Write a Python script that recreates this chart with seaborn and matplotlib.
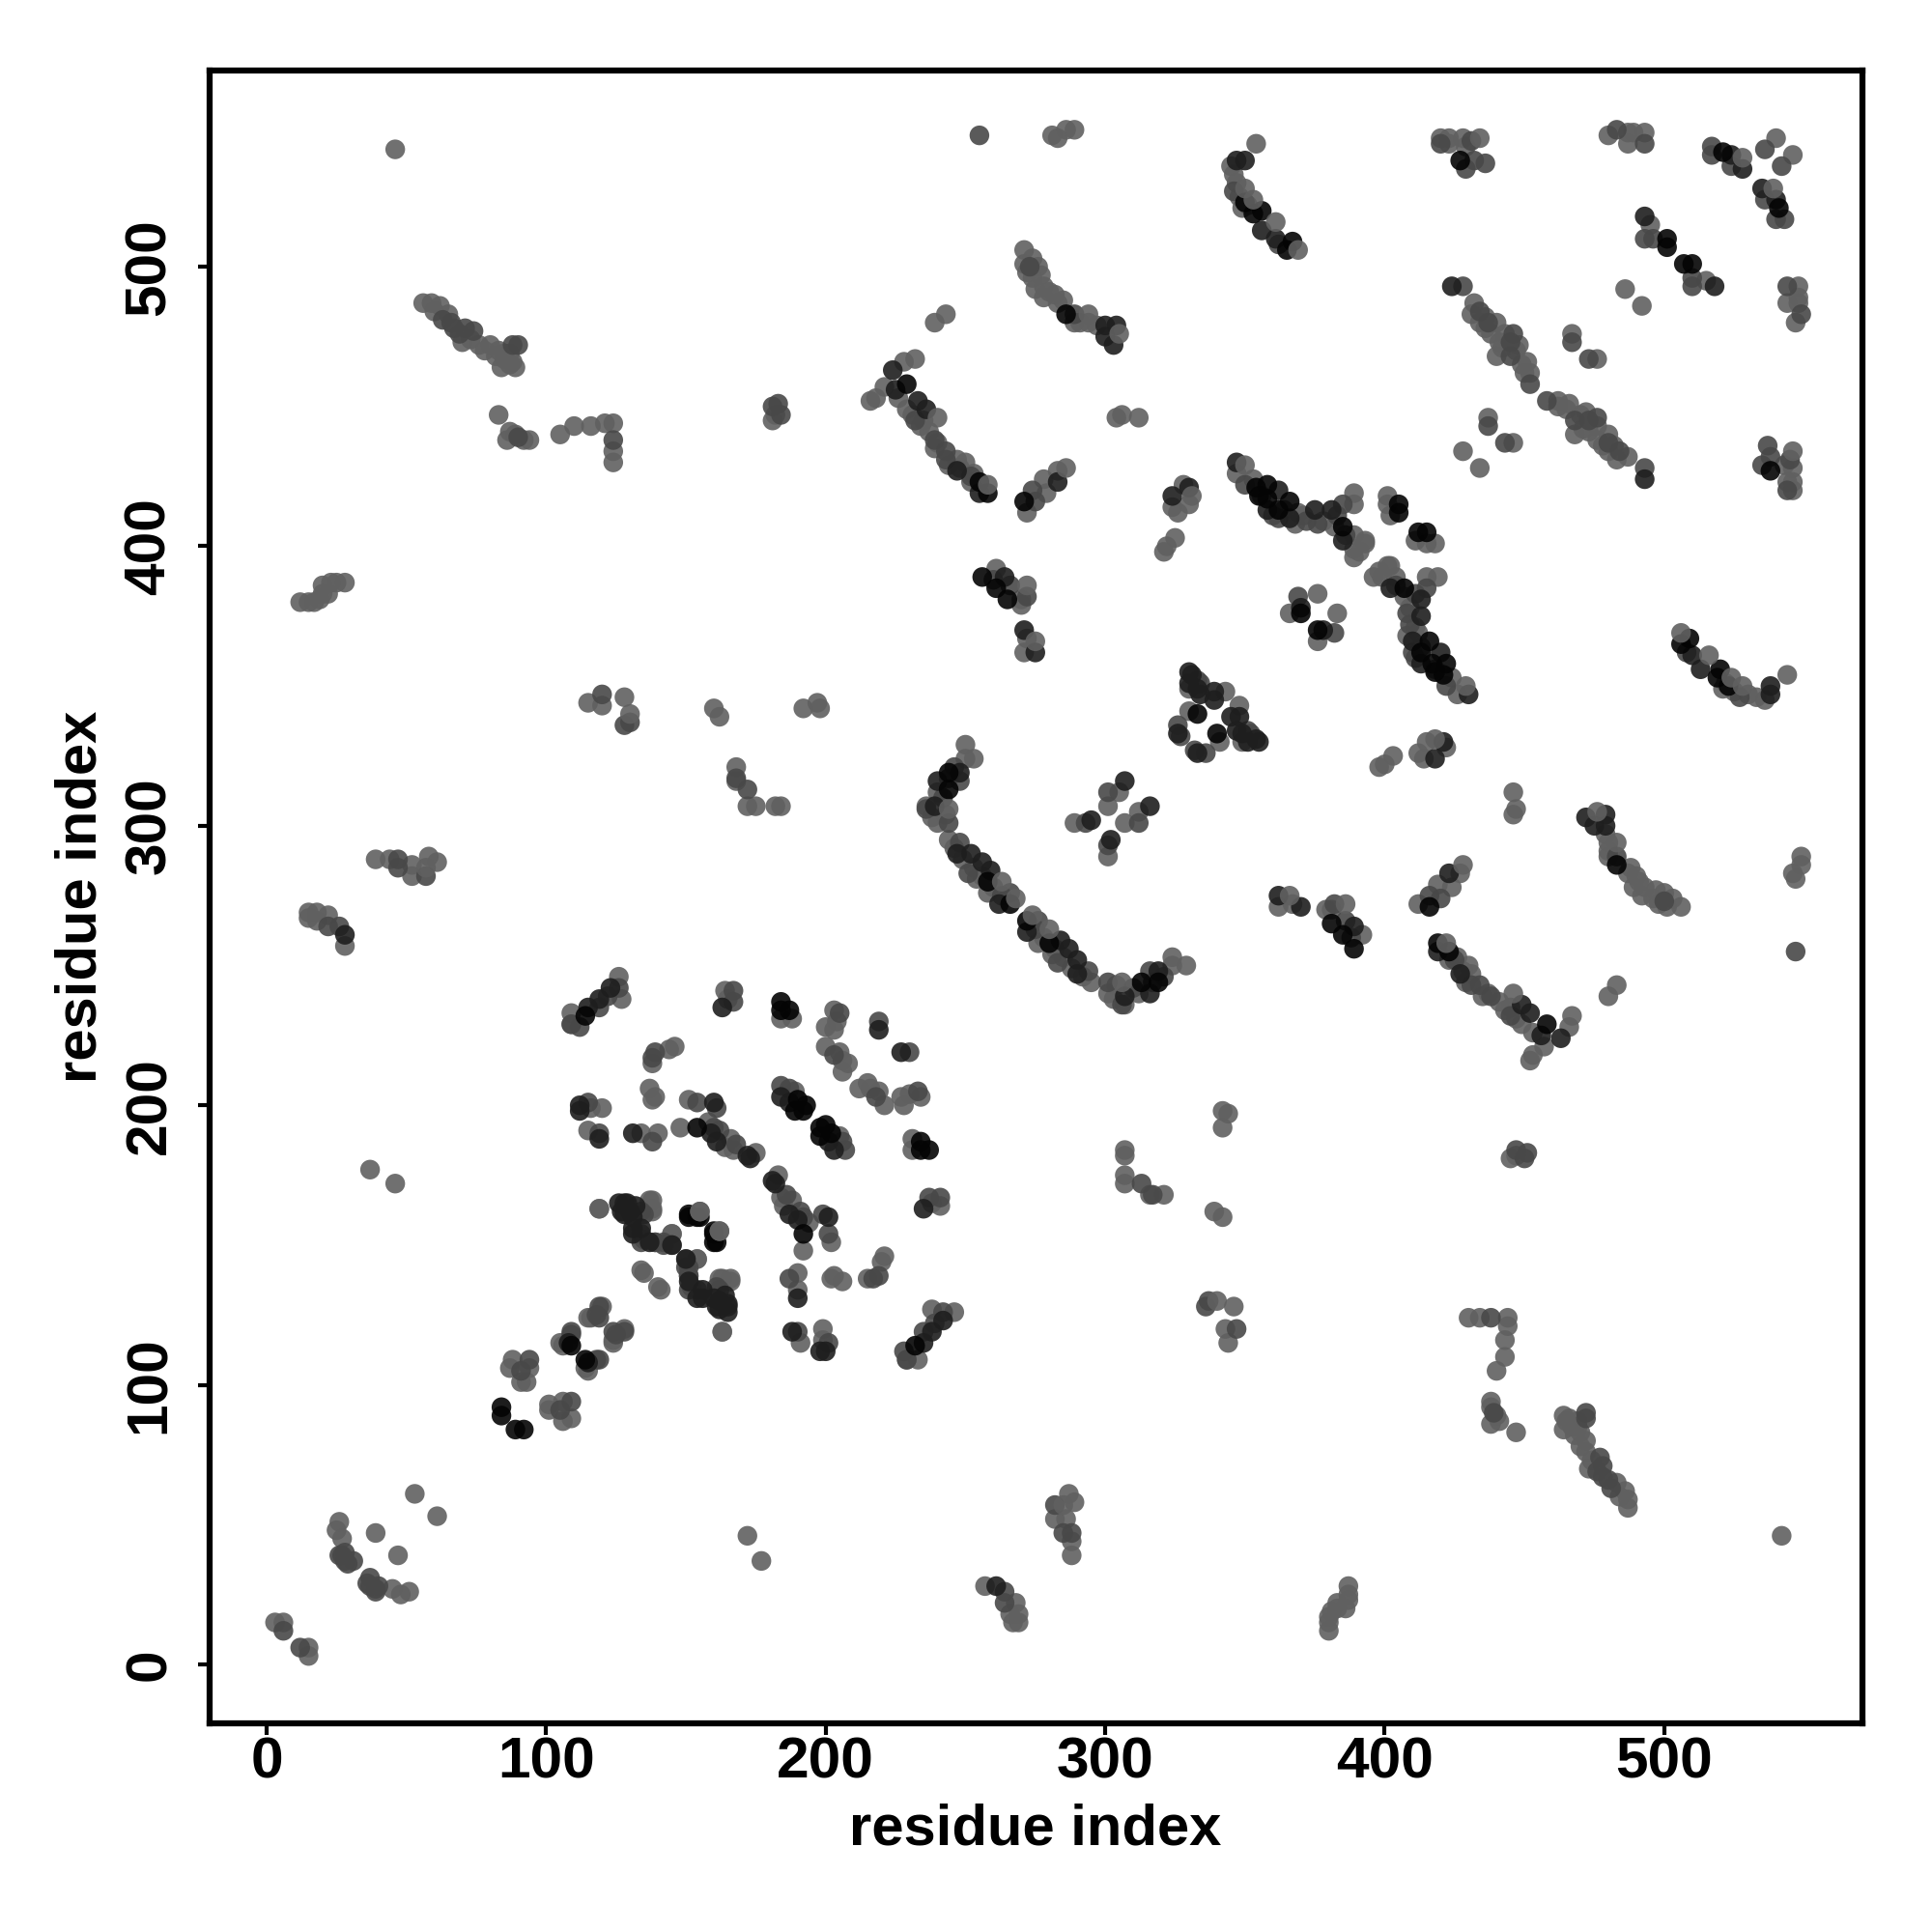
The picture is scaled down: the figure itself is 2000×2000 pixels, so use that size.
import pandas as pd
import matplotlib
matplotlib.use('Agg')
import matplotlib.pyplot as plt
import seaborn as sns

# contacts as (residue i, residue j), i < j
# the map is symmetric so each pair gets drawn on both sides of the diagonal
light_contacts = [
    (3, 15), (6, 15), (26, 51), (25, 48), (27, 45), (39, 47), (53, 61),
    (12, 380), (15, 380), (17, 380), (19, 381), (20, 383), (22, 383), (20, 386), (23, 387), (25, 387), (28, 387),
    (15, 269), (18, 269), (15, 267), (18, 266), (22, 268), (28, 257),
    (39, 288), (44, 288), (52, 286), (52, 282), (58, 289), (61, 287),
    (46, 542), (37, 177), (46, 172),
    (56, 487), (59, 487), (62, 486), (60, 484), (65, 483), (73, 474), (76, 472), (80, 472), (83, 470),
    (85, 467), (85, 469), (84, 464), (87, 465), (89, 464), (87, 469), (83, 447),
    (70, 473), (78, 470), (82, 468), (88, 466),
    (87, 441), (86, 438), (89, 440), (92, 438), (94, 438),
    (105, 440), (110, 443), (116, 443), (121, 444), (124, 444), (124, 434), (124, 430),
    (115, 344), (120, 343), (128, 346),
    (160, 342), (162, 339),
    (168, 321), (168, 316), (172, 307), (175, 307), (182, 307), (184, 307),
    (192, 342), (197, 344), (198, 342), (182, 447), (181, 445),
    (93, 101), (94, 106), (91, 101), (88, 109), (87, 106),
    (109, 233), (109, 229), (126, 246), (127, 238),
    (164, 241), (165, 238),
    (184, 231), (188, 231), (203, 234), (204, 230), (200, 228), (203, 227),
    (146, 221), (144, 220), (138, 215),
    (137, 206), (139, 203), (138, 202), (151, 202),
    (116, 199), (120, 199), (115, 191),
    (134, 190), (140, 190), (148, 192),
    (158, 194), (166, 188), (164, 185), (167, 184), (175, 183),
    (189, 205),
    (200, 221), (205, 219), (206, 216), (208, 215), (206, 212),
    (119, 163), (137, 166), (138, 163), (145, 154),
    (134, 141), (140, 135), (154, 145), (152, 135), (162, 138), (166, 138), (163, 119),
    (115, 124), (128, 120), (124, 116), (105, 115), (114, 106),
    (283, 546), (286, 549), (289, 549), (281, 547),
    (345, 536), (346, 533), (349, 521), (347, 530), (348, 525), (351, 522),
    (271, 506), (271, 501), (276, 500), (274, 496), (278, 493), (275, 492), (282, 490), (278, 489), (285, 488),
    (272, 498), (274, 503), (277, 497), (280, 491), (283, 487), (289, 480), (294, 480), (291, 480), (297, 479),
    (239, 480), (243, 483), (304, 446), (306, 447), (312, 446),
    (325, 403), (322, 400), (321, 398), (328, 422), (324, 414), (326, 412), (330, 415),
    (218, 453), (216, 452), (221, 457), (226, 453), (228, 466), (235, 445), (239, 435), (247, 431), (250, 430),
    (253, 426), (252, 423), (229, 449), (231, 447), (234, 443), (237, 441), (240, 437), (244, 429), (248, 428),
    (272, 412), (279, 419), (278, 424), (283, 427),
    (250, 329), (250, 324), (253, 324), (240, 312), (236, 307), (240, 301), (238, 303), (243, 304),
    (244, 295), (254, 281), (258, 276), (246, 292), (249, 288), (253, 285), (256, 282), (260, 278),
    (289, 301), (301, 307), (305, 312),
    (261, 392), (270, 381), (270, 379), (272, 367), (271, 362),
    (347, 426), (353, 424), (389, 419), (389, 415), (382, 407), (389, 404), (393, 402), (393, 401), (389, 399), (389, 396),
    (369, 412), (401, 418), (401, 415), (402, 411), (356, 418), (364, 413), (368, 408), (371, 411), (378, 409), (391, 398),
    (376, 383), (366, 376), (330, 349), (330, 341), (343, 348),
    (420, 546), (423, 546), (423, 544), (428, 546), (429, 543),
    (480, 547), (487, 548), (489, 548), (493, 548), (487, 544),
    (540, 546), (495, 515),
    (432, 487), (431, 483), (434, 480), (440, 480), (441, 473), (448, 472), (440, 468), (451, 466), (450, 462), (452, 462),
    (436, 478), (438, 476), (442, 471), (443, 476), (447, 470), (449, 465), (436, 482),
    (467, 476), (437, 446), (428, 434), (486, 492),
]

mid_contacts = [
    (6, 12), (27, 39), (31, 37), (29, 36), (28, 37), (28, 40), (26, 39),
    (22, 264), (26, 264), (47, 288), (47, 285), (57, 282),
    (63, 481), (67, 478), (69, 476), (71, 478), (74, 477), (88, 472), (90, 472), (66, 480),
    (90, 439), (124, 438),
    (120, 347), (130, 337), (128, 336), (172, 313), (168, 317),
    (183, 451), (181, 450), (184, 447),
    (91, 105), (94, 109),
    (126, 242), (122, 239), (119, 235), (109, 229), (112, 228),
    (167, 241), (167, 237),
    (205, 233), (219, 230),
    (139, 219), (138, 217), (154, 201), (161, 199),
    (115, 201), (119, 190), (138, 187),
    (160, 192), (162, 191), (168, 186),
    (184, 207), (187, 206),
    (203, 218),
    (134, 162), (134, 151), (139, 151), (142, 151),
    (150, 145), (150, 142), (151, 139), (154, 134), (161, 135),
    (119, 128), (118, 125), (124, 119), (109, 119), (118, 109),
    (255, 547), (346, 527), (362, 508),
    (273, 500), (289, 483),
    (232, 445), (239, 438), (243, 434), (243, 431), (274, 420), (275, 416), (252, 425),
    (248, 316), (244, 317), (236, 306), (244, 301), (248, 294), (251, 283), (266, 276), (263, 275), (246, 321), (242, 310),
    (293, 301), (301, 312),
    (260, 388), (266, 386), (272, 382),
    (350, 422), (362, 410), (372, 409), (376, 408), (385, 415), (360, 411), (383, 411), (386, 404),
    (369, 382), (333, 352), (326, 336), (327, 332), (334, 351),
    (420, 544), (431, 545), (432, 538), (436, 537), (429, 535),
    (483, 549), (493, 544),
    (517, 543), (517, 540), (524, 536), (536, 542), (493, 510), (496, 510),
    (428, 493), (434, 484), (437, 480), (446, 476), (445, 473), (445, 468), (452, 458),
    (467, 473), (437, 443),
]

dark_contacts = [
    (28, 261),
    (123, 242), (119, 238), (115, 235), (163, 235),
    (219, 227),
    (160, 201), (112, 200), (112, 198), (119, 188), (131, 190),
    (159, 190), (161, 187), (172, 182), (173, 181),
    (184, 203), (187, 201),
    (126, 165), (129, 165), (127, 162), (130, 162), (134, 156), (131, 156), (145, 150),
    (151, 137), (154, 131), (160, 131), (164, 132), (165, 128), (161, 128),
    (108, 115),
    (347, 538), (350, 538), (356, 513), (361, 510),
    (300, 479), (304, 479), (300, 475), (303, 472),
    (224, 463), (225, 456), (233, 452), (236, 449), (247, 427), (255, 419),
    (283, 423),
    (330, 421), (324, 418),
    (248, 319), (240, 316), (239, 307), (247, 290), (252, 290), (256, 287), (259, 284), (262, 272),
    (295, 302), (307, 316),
    (264, 389), (271, 370), (275, 362),
    (347, 430), (362, 420), (358, 413), (366, 410), (375, 413), (381, 413), (385, 402),
    (370, 378), (330, 355), (330, 351), (333, 349), (339, 348), (339, 345), (326, 333), (334, 347), (331, 354),
    (493, 518), (424, 493), (524, 540), (528, 535),
]

black_contacts = [
    (84, 92), (84, 89),
    (114, 232), (184, 237), (187, 234), (184, 234),
    (154, 192),
    (151, 161), (154, 160), (160, 155), (160, 151), (114, 109),
    (190, 202), (193, 200), (189, 198), (192, 198),
    (350, 523), (353, 519), (356, 520), (367, 509), (365, 506),
    (286, 483), (229, 458), (255, 423), (258, 419), (271, 416),
    (244, 319), (244, 313), (258, 280), (266, 272),
    (256, 389), (261, 385), (265, 381),
    (354, 421), (358, 422), (355, 418), (358, 417), (366, 416), (362, 413), (385, 407),
    (405, 415), (405, 412), (370, 376), (333, 340),
    (427, 538), (521, 541), (501, 510), (501, 507),
]

# lighter dots that sit on top of the dark ones
top_contacts = [
    (232, 467), (240, 446), (258, 422), (286, 428), (294, 483), (305, 476),
    (354, 544), (350, 528), (353, 524), (361, 516), (369, 506),
    (434, 546), (528, 539), (244, 306), (263, 280), (268, 274), (130, 340), (57, 285),
    (272, 386), (275, 366), (331, 418), (350, 429), (155, 162), (162, 155),
]

tier_names = ['light', 'mid', 'dark', 'black', 'top']
tier_contacts = [light_contacts, mid_contacts, dark_contacts, black_contacts, top_contacts]
tier_colors = ['#606060', '#484848', '#1e1e1e', '#040404', '#606060']

x_ticks = [0, 100, 200, 300, 400, 500]
y_ticks = [0, 100, 200, 300, 400, 500]

rows = []
for name, contacts in zip(tier_names, tier_contacts):
    for i, j in contacts:
        rows.append((i, j, name))
        rows.append((j, i, name))
df = pd.DataFrame(rows, columns=['x', 'y', 'tier'])

sns.set_theme(style='white')
plt.rcParams['font.family'] = ['Liberation Sans', 'DejaVu Sans']

fig = plt.figure(figsize=(20, 20), dpi=100)
ax = fig.add_axes([217 / 2000, 1 - 1784 / 2000, 1711 / 2000, 1711 / 2000])

sns.scatterplot(
    data=df, x='x', y='y', hue='tier',
    palette=dict(zip(tier_names, tier_colors)),
    s=215, alpha=0.9, linewidth=0, legend=False, ax=ax
)

ax.set_xlim(-20.4, 570.9)
ax.set_ylim(-21.1, 570.2)
ax.set_xticks(x_ticks)
ax.set_yticks(y_ticks)
ax.tick_params(axis='both', bottom=True, left=True, length=8.5, width=3, color='black')
ax.tick_params(axis='x', pad=1)
ax.tick_params(axis='y', pad=16)
for label in ax.get_xticklabels() + ax.get_yticklabels():
    label.set_fontsize(43.5)
    label.set_fontweight('bold')
    label.set_color('black')
for label in ax.get_yticklabels():
    label.set_rotation(90)
    label.set_va('center')

for side in ax.spines.values():
    side.set_linewidth(4.5)
    side.set_color('black')

ax.set_xlabel('residue index', fontsize=43, fontweight='bold', color='black', va='center')
ax.set_ylabel('residue index', fontsize=43, fontweight='bold', color='black', va='center')
ax.xaxis.set_label_coords(0.4995, -0.0643)
ax.yaxis.set_label_coords(-0.078, 0.5)

fig.savefig('out.png', dpi=100)
